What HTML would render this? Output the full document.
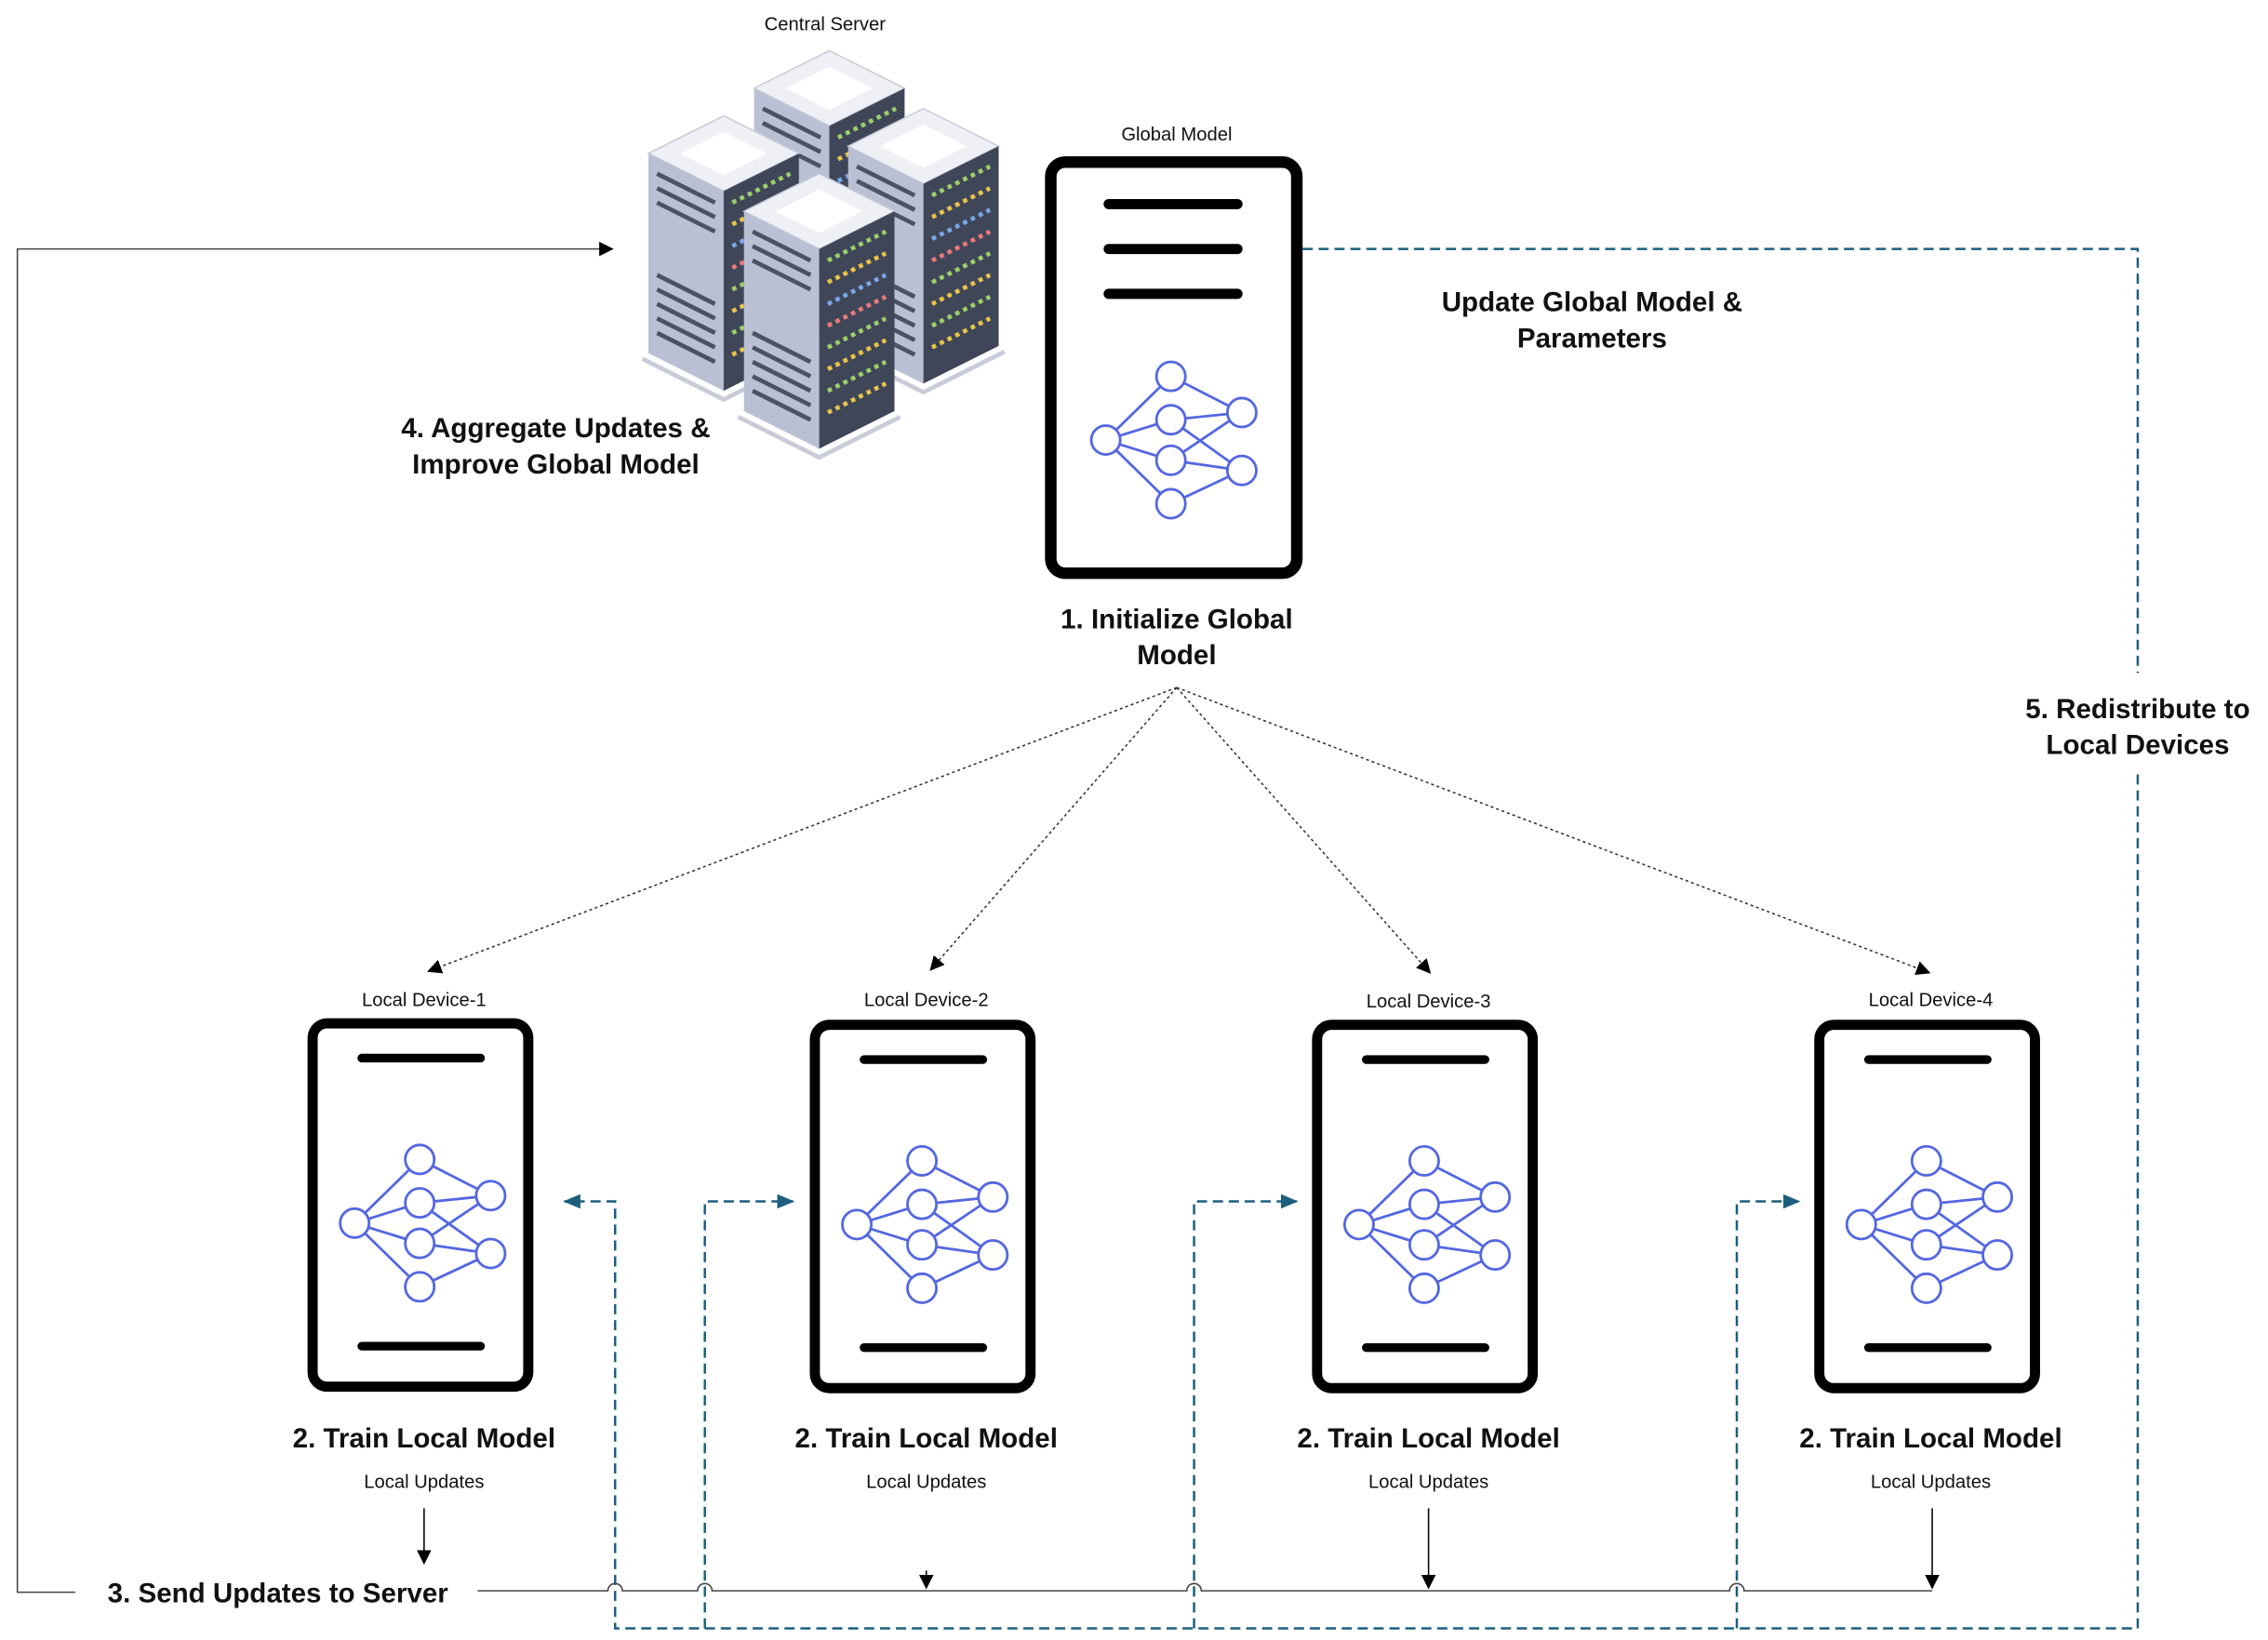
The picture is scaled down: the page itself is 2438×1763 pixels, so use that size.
<!DOCTYPE html>
<html><head><meta charset="utf-8"><style>
html,body{margin:0;padding:0;background:#fff}
svg{display:block}
text{font-family:"Liberation Sans",sans-serif;fill:#111}
.b{font-weight:bold;font-size:19px}
.s{font-size:13px}
</style></head><body>
<svg width="2438" height="1763" viewBox="0 0 1567 1133" preserveAspectRatio="none" xmlns="http://www.w3.org/2000/svg">
<defs>
<marker id="ak" markerWidth="10" markerHeight="10" refX="9" refY="5" orient="auto" markerUnits="userSpaceOnUse"><path d="M0,0 L10,5 L0,10 z" fill="#000"/></marker>
<marker id="ab" markerWidth="12" markerHeight="10" refX="11" refY="5" orient="auto" markerUnits="userSpaceOnUse"><path d="M0,0 L12,5 L0,10 z" fill="#1d5e7e"/></marker>
<g id="nn" fill="#fff" stroke="#5467e0" stroke-width="1.8">
<path d="M-45,0 L0,-44 M-45,0 L0,-14 M-45,0 L0,14 M-45,0 L0,44 M0,-44 L49,-19 M0,-14 L49,-19 M0,-14 L49,21 M0,14 L49,-19 M0,14 L49,21 M0,44 L49,21" fill="none"/>
<circle cx="-45" cy="0" r="10"/><circle cx="0" cy="-44" r="10"/><circle cx="0" cy="-14" r="10"/><circle cx="0" cy="14" r="10"/><circle cx="0" cy="44" r="10"/><circle cx="49" cy="-19" r="10"/><circle cx="49" cy="21" r="10"/>
</g>
<g id="dev">
<rect x="4" y="4" width="149" height="251" rx="10" fill="#fff" stroke="#000" stroke-width="7"/>
<line x1="38" y1="28" x2="120" y2="28" stroke="#000" stroke-width="6" stroke-linecap="round"/>
<line x1="38" y1="227" x2="120" y2="227" stroke="#000" stroke-width="6" stroke-linecap="round"/>
<use href="#nn" x="78" y="142"/>
</g>
<g id="tower">
<path d="M-52,26 L0,0 L52,26 L0,52 z" fill="#eef0f6" stroke="#c8ccd8"/>
<path d="M-30,26 L0,11 L30,26 L0,41 z" fill="#fff"/>
<path d="M-52,26 L0,52 L0,190 L-52,164 z" fill="#b9c0d3"/>
<path d="M0,52 L52,26 L52,164 L0,190 z" fill="#3f4658"/>
<g stroke="#4b5266" stroke-width="3"><path d="M-46,40 L-6,60 M-46,50 L-6,70 M-46,60 L-6,80 M-46,110 L-6,130 M-46,120 L-6,140 M-46,130 L-6,150 M-46,140 L-6,160 M-46,150 L-6,170"/></g>
<g stroke-width="3" stroke-dasharray="3 3"><path d="M6,60 L46,40" stroke="#9bd06a"/><path d="M6,75 L46,55" stroke="#e8c44a"/><path d="M6,90 L46,70" stroke="#7aa6e6"/><path d="M6,105 L46,85" stroke="#e87a7a"/><path d="M6,120 L46,100" stroke="#9bd06a"/><path d="M6,135 L46,115" stroke="#e8c44a"/><path d="M6,150 L46,130" stroke="#9bd06a"/><path d="M6,165 L46,145" stroke="#e8c44a"/></g>
<path d="M-56,168 L0,196 L56,168" fill="none" stroke="#c8ccd8" stroke-width="3"/>
</g>
</defs>

<text x="570" y="21" class="s" text-anchor="middle">Central Server</text>
<use href="#tower" x="573" y="35"/>
<use href="#tower" x="500" y="80"/>
<use href="#tower" x="638" y="75"/>
<use href="#tower" x="566" y="120"/>

<text x="813" y="97" class="s" text-anchor="middle">Global Model</text>
<rect x="726" y="112" width="170" height="284" rx="10" fill="#fff" stroke="#000" stroke-width="8"/>
<g stroke="#000" stroke-width="7" stroke-linecap="round"><line x1="766" y1="141" x2="855" y2="141"/><line x1="766" y1="172" x2="855" y2="172"/><line x1="766" y1="203" x2="855" y2="203"/></g>
<use href="#nn" x="809" y="304"/>

<text x="813" y="434" class="b" text-anchor="middle">1. Initialize Global</text>
<text x="813" y="459" class="b" text-anchor="middle">Model</text>
<text x="1100" y="215" class="b" text-anchor="middle">Update Global Model &amp;</text>
<text x="1100" y="240" class="b" text-anchor="middle">Parameters</text>
<text x="384" y="302" class="b" text-anchor="middle">4. Aggregate Updates &amp;</text>
<text x="384" y="327" class="b" text-anchor="middle">Improve Global Model</text>
<text x="1477" y="496" class="b" text-anchor="middle">5. Redistribute to</text>
<text x="1477" y="521" class="b" text-anchor="middle">Local Devices</text>

<path d="M52,1100 L12,1100 L12,172 L423,172" fill="none" stroke="#444" stroke-width="1" marker-end="url(#ak)"/>
<path d="M330,1099 L420,1099 a5,5 0 0 1 10,0 L482,1099 a5,5 0 0 1 10,0 L820,1099 a5,5 0 0 1 10,0 L1195,1099 a5,5 0 0 1 10,0 L1335,1099" fill="none" stroke="#444" stroke-width="1"/>
<text x="192" y="1107" class="b" text-anchor="middle">3. Send Updates to Server</text>

<g fill="none" stroke="#1d5e7e" stroke-width="1.6" stroke-dasharray="7 4">
<path d="M900,172 L1477,172 L1477,465"/>
<path d="M1477,535 L1477,1125 L425,1125 L425,830 L390,830" marker-end="url(#ab)"/>
<path d="M487,1125 L487,830 L548,830" marker-end="url(#ab)"/>
<path d="M825,1125 L825,830 L896,830" marker-end="url(#ab)"/>
<path d="M1200,1125 L1200,830 L1243,830" marker-end="url(#ab)"/>
</g>

<g fill="none" stroke="#333" stroke-width="1" stroke-dasharray="2 2">
<path d="M813,475 L296,671" marker-end="url(#ak)"/>
<path d="M813,475 L643,670" marker-end="url(#ak)"/>
<path d="M813,475 L988,672" marker-end="url(#ak)"/>
<path d="M813,475 L1333,672" marker-end="url(#ak)"/>
</g>

<text x="293" y="695" class="s" text-anchor="middle">Local Device-1</text>
<text x="640" y="695" class="s" text-anchor="middle">Local Device-2</text>
<text x="987" y="696" class="s" text-anchor="middle">Local Device-3</text>
<text x="1334" y="695" class="s" text-anchor="middle">Local Device-4</text>
<use href="#dev" x="212" y="703"/>
<use href="#dev" x="559" y="704"/>
<use href="#dev" x="906" y="704"/>
<use href="#dev" x="1253" y="704"/>

<text x="293" y="1000" class="b" text-anchor="middle">2. Train Local Model</text>
<text x="640" y="1000" class="b" text-anchor="middle">2. Train Local Model</text>
<text x="987" y="1000" class="b" text-anchor="middle">2. Train Local Model</text>
<text x="1334" y="1000" class="b" text-anchor="middle">2. Train Local Model</text>
<text x="293" y="1028" class="s" text-anchor="middle">Local Updates</text>
<text x="640" y="1028" class="s" text-anchor="middle">Local Updates</text>
<text x="987" y="1028" class="s" text-anchor="middle">Local Updates</text>
<text x="1334" y="1028" class="s" text-anchor="middle">Local Updates</text>
<g stroke="#000" stroke-width="1" fill="none">
<path d="M293,1042 L293,1080" marker-end="url(#ak)"/>
<path d="M640,1085 L640,1097" marker-end="url(#ak)"/>
<path d="M987,1042 L987,1097" marker-end="url(#ak)"/>
<path d="M1335,1042 L1335,1097" marker-end="url(#ak)"/>
</g>
</svg>
</body></html>
